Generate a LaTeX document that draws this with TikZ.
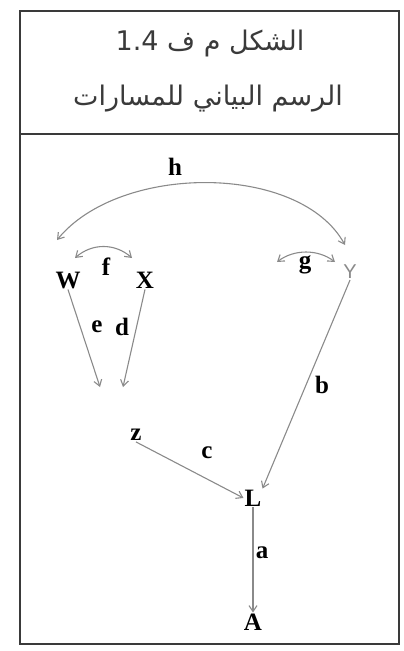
\documentclass[tikz,border=0pt]{standalone}
\usepackage{fontspec}
\usetikzlibrary{arrows.meta,positioning}
\TeXXeTstate=1
\newfontfamily\arabicfont[Script=Arabic]{DejaVu Sans}
\newfontfamily\labelfont{Liberation Serif}
\newfontfamily\thinfont{Liberation Sans}
\definecolor{edgegray}{HTML}{8A8A8A}
\definecolor{framegray}{HTML}{3A3A3A}

\begin{document}
\begin{tikzpicture}[x=1pt,y=-1pt,
  every node/.style={inner sep=1pt},
  lbl/.style={font=\labelfont\bfseries\fontsize{25}{25}\selectfont},
  arr/.style={draw=edgegray,line width=1.1pt,-{Straight Barb[length=6pt,width=8pt]}},
  dbl/.style={arr,{Straight Barb[length=6pt,width=8pt]}-{Straight Barb[length=6pt,width=8pt]}}]
\useasboundingbox (0,0) rectangle (404,651);
\draw[framegray,line width=1.6pt] (20,11) rectangle (399,644);
\draw[framegray,line width=1.6pt] (20,134) -- (399,134);
\node[text=framegray,font=\arabicfont\fontsize{27}{27}\selectfont] (title) at (210,43) {\beginR الشكل م ف \beginL 1.4\endL\endR};
\node[text=framegray,font=\arabicfont\fontsize{27}{27}\selectfont] (subtitle) at (208,99) {\beginR الرسم البياني للمسارات\endR};

\node[lbl] (W) at (68,280) {W};
\node[lbl] (X) at (145,280) {X};
\node[text=edgegray,font=\thinfont\fontsize{20}{20}\selectfont] (Y) at (350,272) {Y};
\node[lbl] (z) at (136,435) {z};
\node[lbl] (L) at (253,498) {L};
\node[lbl] (A) at (253,622) {A};

\coordinate (hW) at (57,240);
\coordinate (hY) at (345,245);
\coordinate (fW) at (75,258);
\coordinate (fX) at (132,258);
\coordinate (gl) at (277,262);
\coordinate (gr) at (335,262);
\coordinate (eend) at (100,387);
\coordinate (dend) at (123,387);

\draw[dbl] (hW) .. controls (120,163) and (300,163) .. (hY);
\draw[dbl] (fW) .. controls (92,243) and (115,243) .. (fX);
\draw[dbl] (gl) .. controls (294,249) and (318,249) .. (gr);
\draw[arr] (W.south) -- (eend);
\draw[arr] (X.south) -- (dend);
\draw[arr] (Y.south) -- (L.north east);
\draw[arr] (z.south) -- (L.west);
\draw[arr] (L.south) -- (A.north);

\node[lbl] (hlab) at (175,167) {h};
\node[lbl] (flab) at (106,267) {f};
\node[lbl] (glab) at (305,265) {g};
\node[lbl] (elab) at (97,327) {e};
\node[lbl] (dlab) at (122,327) {d};
\node[lbl] (blab) at (322,385) {b};
\node[lbl] (clab) at (207,453) {c};
\node[lbl] (alab) at (262,553) {a};
\end{tikzpicture}
\end{document}
